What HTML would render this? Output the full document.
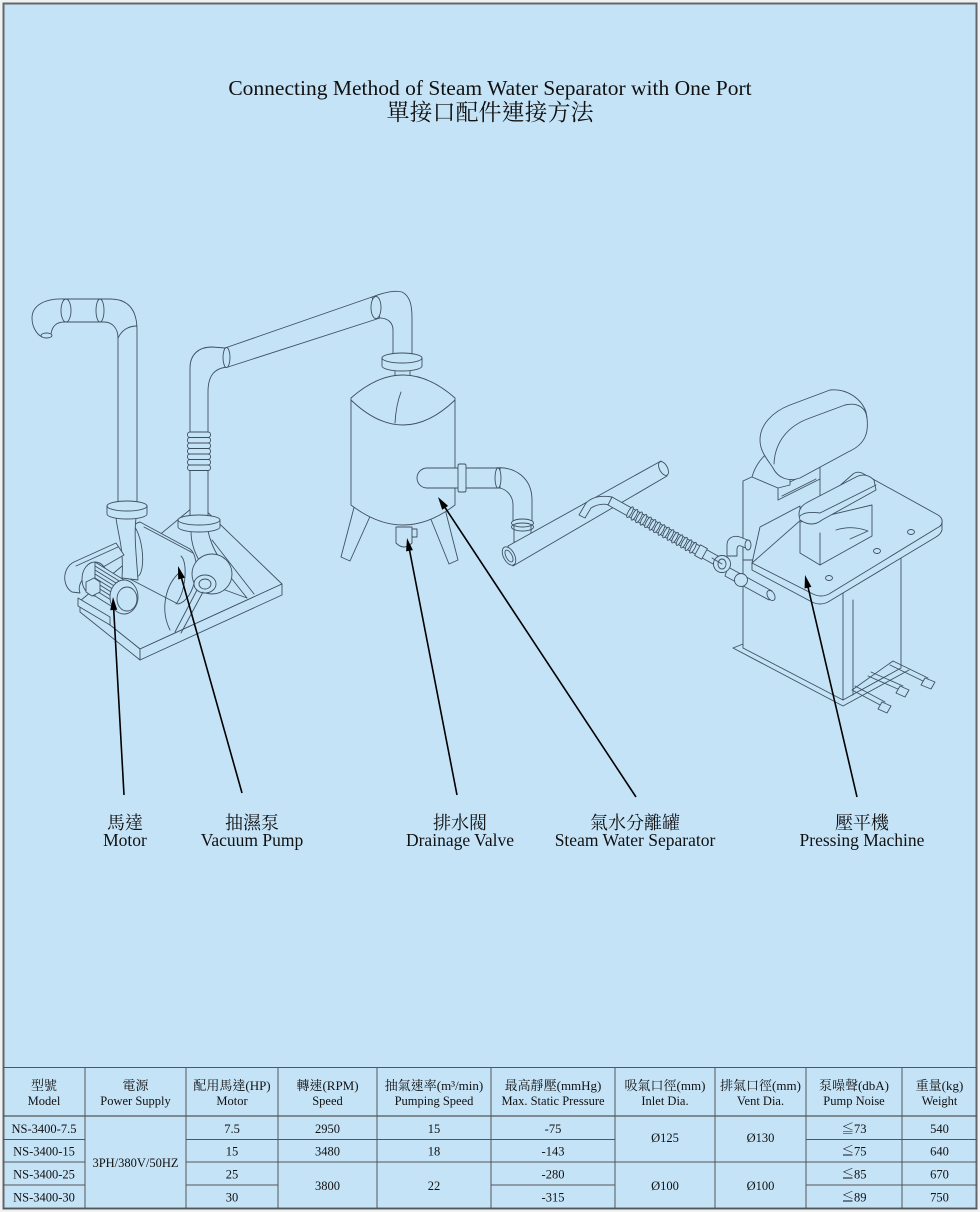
<!DOCTYPE html>
<html><head><meta charset="utf-8">
<style>
html,body{margin:0;padding:0;background:#fff;}
svg{display:block;}
.d{fill:none;stroke:#3e5060;stroke-width:0.9;stroke-linejoin:round;stroke-linecap:round}
.f{fill:#c5e3f7;stroke:#3e5060;stroke-width:0.9;stroke-linejoin:round}
.t{font-family:"Liberation Serif","Noto Serif CJK TC","Noto Serif CJK SC",serif;fill:#111;}
.tb{font-size:12.5px;text-anchor:middle;}
.tc{font-size:13px;text-anchor:middle;}
.g{stroke:#555;stroke-width:1;fill:none}
</style></head><body>
<svg width="980" height="1212" viewBox="0 0 980 1212" xmlns="http://www.w3.org/2000/svg">
<rect x="0" y="0" width="980" height="1212" fill="#eef2f5"/>
<rect x="3.5" y="3.5" width="973" height="1205" fill="#c5e3f7" stroke="#666" stroke-width="2"/>

<!-- Title -->
<text class="t" x="490" y="95" font-size="21.5" text-anchor="middle">Connecting Method of Steam Water Separator with One Port</text>
<text class="t" x="490" y="120" font-size="23" text-anchor="middle">單接口配件連接方法</text>

<!-- ================= LEFT: pump assembly ================= -->
<!-- base -->
<path class="f" d="M80,601 L198,503 L282,584 L140,649 Z"/>
<path class="f" d="M80,601 L80,612 L140,660 L140,649 Z"/>
<path class="f" d="M140,649 L140,660 L282,595 L282,584 Z"/>
<path class="d" d="M205,545 L247,598 M212,540 L254,594"/>

<!-- left pipe -->
<path class="f" d="M118,503 L118,338 C118,328 112,322 104,322 L64,322 L64,299 L110,299 C127,299 137,308 137,330 L137,503 Z"/>
<path class="d" d="M118,338 C122,330 128,326 137,326"/>
<ellipse class="f" cx="100" cy="310.5" rx="4" ry="11.5"/>
<path class="f" d="M64,299 C46,298 32,305 32,318 C32,326 36,334 42,337 L51,334 C52,327 56,322 64,322 Z"/>
<ellipse class="f" cx="66" cy="310.5" rx="5" ry="11.5"/>
<ellipse class="f" cx="46.5" cy="335.5" rx="5.5" ry="2.5"/>

<!-- right pipe + diagonal to separator -->
<path class="f" d="M225,348 L372,297 L380,318 L228,367 Z"/>
<path class="f" d="M190,518 L190,368 C190,355 198,347 212,347 L225,348 L228,367 C214,368 208,376 208,392 L208,518 Z"/>
<ellipse class="f" cx="226.5" cy="357.5" rx="3.5" ry="10"/>
<g class="f">
<rect x="187.5" y="432" width="23" height="5.5" rx="2.5"/>
<rect x="187.5" y="437.5" width="23" height="5.5" rx="2.5"/>
<rect x="187.5" y="443" width="23" height="5.5" rx="2.5"/>
<rect x="187.5" y="448.5" width="23" height="5.5" rx="2.5"/>
<rect x="187.5" y="454" width="23" height="5.5" rx="2.5"/>
<rect x="187.5" y="459.5" width="23" height="5.5" rx="2.5"/>
<rect x="187.5" y="465" width="23" height="5.5" rx="2.5"/>
</g>

<!-- coupling cylinder -->
<path class="f" d="M140,522 L190,549 C202,558 196,600 178,604 L128,578 C118,570 124,525 140,522 Z"/>
<ellipse class="f" cx="133" cy="550" rx="9" ry="27" transform="rotate(-8 133 550)"/>
<path class="d" d="M144,527 L193,553 M176,604 C186,592 188,562 181,556"/>

<!-- right flange + neck + volute -->
<path class="f" d="M191,531 C191,545 196,555 200,562 L218,556 C213,548 210,540 208,531 Z"/>
<path class="f" d="M178,520 A21,5 0 0,1 220,520 L220,527 A21,5 0 0,1 178,527 Z"/>
<path class="d" d="M178,520 A21,5 0 0,0 220,520"/>
<circle class="f" cx="212" cy="574" r="20"/>
<ellipse class="f" cx="205" cy="584" rx="11" ry="9"/>
<ellipse class="d" cx="205" cy="584" rx="6" ry="5"/>
<path class="d" d="M170,630 C160,610 165,585 180,572 M175,632 L197,590 M181,633 L203,592 M225,590 L247,598"/>

<!-- left flange + neck -->
<path class="f" d="M116,518 C118,535 124,548 122,578 L138,580 C136,552 134,535 136,518 Z"/>
<path class="f" d="M107,506 A20,5 0 0,1 147,506 L147,514 A20,5 0 0,1 107,514 Z"/>
<path class="d" d="M107,506 A20,5 0 0,0 147,506"/>

<!-- motor -->
<path class="f" d="M72,592 C62,586 62,568 74,562 L116,543 L124,555 L84,578 C80,582 78,588 80,593 Z"/>
<path class="d" d="M76,566 L118,547"/>
<path class="f" d="M78,598 L78,606 L110,625 L110,617 Z"/>
<ellipse class="f" cx="95" cy="579" rx="13" ry="17"/>
<path class="f" d="M95,562 L124,580 L124,614 L95,596 Z"/>
<path class="d" d="M95,566 L124,584 M95,570 L124,588 M95,574 L124,592 M95,578 L124,596 M95,582 L124,600 M95,586 L124,604 M95,590 L124,608"/>
<path class="f" d="M86,582 L94,578 L100,582 L100,592 L92,596 L86,592 Z"/>
<ellipse class="f" cx="124" cy="597" rx="14" ry="17"/>
<ellipse class="f" cx="127" cy="599" rx="10" ry="12"/>

<!-- ================= SEPARATOR ================= -->
<path class="f" d="M372,297 C385,292 395,290 402,292 C410,296 412,305 412,318 L412,356 L393,356 L393,330 C393,323 388,318 380,318 Z"/>
<ellipse class="f" cx="376" cy="307.5" rx="5" ry="11"/>
<path class="f" d="M395,366 L395,394 L410,394 L410,366 Z"/>
<path class="f" d="M382,358 A20,5 0 0,1 422,358 L422,366 A20,5 0 0,1 382,366 Z"/>
<path class="d" d="M382,358 A20,5 0 0,0 422,358"/>
<!-- legs -->
<path class="f" d="M356,500 L372,512 L350,561 L341,557 Z"/>
<path class="f" d="M428,512 L444,505 L458,560 L449,564 Z"/>
<!-- tank -->
<path class="f" d="M351,398 Q403,352 455,398 L455,505 Q403,545 351,505 Z"/>
<path class="d" d="M351,400 Q403,450 455,400 M401,392 Q396,405 395,423"/>
<!-- drain valve -->
<path class="f" d="M396,527 L396,543 Q404,551 412,543 L412,527 Z"/>
<rect class="f" x="412" y="529" width="5" height="8"/>
<!-- side outlet elbow -->
<path class="f" d="M514,522 L514,542 L531,542 L531,522 Z"/>
<path class="f" d="M495,468 C515,466 532,478 532,500 L532,522 L513,522 L513,505 C513,497 508,490 500,488 Z"/>
<ellipse class="f" cx="522.5" cy="523" rx="11" ry="4"/>
<ellipse class="d" cx="522.5" cy="527" rx="11" ry="4"/>
<path class="f" d="M500,468 L427,468 A10,10 0 0 0 427,488 L500,488 Z"/>
<ellipse class="f" cx="498" cy="478" rx="3" ry="10"/>
<rect class="f" x="458" y="464" width="8" height="28" rx="1.5"/>

<!-- ================= right pipe / hose ================= -->
<path class="f" d="M508,546 L661,461 L667,476 L513,566 Z"/>
<ellipse class="f" cx="509" cy="556" rx="5.5" ry="10" transform="rotate(-28 509 556)"/>
<ellipse class="d" cx="509" cy="556" rx="3" ry="6.5" transform="rotate(-28 509 556)"/>
<ellipse class="f" cx="663.5" cy="468.5" rx="4" ry="7.5" transform="rotate(-28 663.5 468.5)"/>
<path class="f" d="M579,515 L586,503 C592,497 600,495 612,497 L610,505 C602,503 596,505 591,508 L585,518 Z"/>
<path class="f" d="M612,497 L718,556 L713,564 L608,505 Z"/>
<g class="f">
<ellipse cx="630" cy="512.2" rx="1.8" ry="6" transform="rotate(29 630 512.2)"/>
<ellipse cx="634.5" cy="514.8" rx="1.8" ry="6" transform="rotate(29 634.5 514.8)"/>
<ellipse cx="639" cy="517.3" rx="1.8" ry="6" transform="rotate(29 639 517.3)"/>
<ellipse cx="643.5" cy="519.8" rx="1.8" ry="6" transform="rotate(29 643.5 519.8)"/>
<ellipse cx="648" cy="522.4" rx="1.8" ry="6" transform="rotate(29 648 522.4)"/>
<ellipse cx="652.5" cy="524.9" rx="1.8" ry="6" transform="rotate(29 652.5 524.9)"/>
<ellipse cx="657" cy="527.4" rx="1.8" ry="6" transform="rotate(29 657 527.4)"/>
<ellipse cx="661.5" cy="530" rx="1.8" ry="6" transform="rotate(29 661.5 530)"/>
<ellipse cx="666" cy="532.5" rx="1.8" ry="6" transform="rotate(29 666 532.5)"/>
<ellipse cx="670.5" cy="535" rx="1.8" ry="6" transform="rotate(29 670.5 535)"/>
<ellipse cx="675" cy="537.6" rx="1.8" ry="6" transform="rotate(29 675 537.6)"/>
<ellipse cx="679.5" cy="540.1" rx="1.8" ry="6" transform="rotate(29 679.5 540.1)"/>
<ellipse cx="684" cy="542.6" rx="1.8" ry="6" transform="rotate(29 684 542.6)"/>
<ellipse cx="688.5" cy="545.2" rx="1.8" ry="6" transform="rotate(29 688.5 545.2)"/>
<ellipse cx="693" cy="547.7" rx="1.8" ry="6" transform="rotate(29 693 547.7)"/>
</g>
<rect class="f" x="697" y="546" width="8" height="12" transform="rotate(29 701 552)"/>

<!-- ================= PRESSING MACHINE ================= -->
<!-- cabinet -->
<path class="d" d="M733,648 L843,706 L909,670 M733,648 L743,644"/>
<path class="f" d="M743,481 L743,648 L843,700 L901,668 L901,540 L843,570 Z"/>
<path class="d" d="M843,590 L843,700 M853,600 L853,695"/>
<!-- pedals -->
<path class="d" d="M852,690 L882,706 M855,686 L885,702 M868,676 L900,690 M871,672 L903,686 M890,665 L925,682 M893,661 L928,678 M852,690 L893,661"/>
<path class="f" d="M882,702 L891,706 L887,713 L878,709 Z M900,686 L909,690 L905,697 L896,693 Z M925,678 L935,682 L931,689 L921,685 Z"/>
<!-- column / back -->
<path class="f" d="M743,481 L756,475 L778,488 L820,467 L820,540 L778,560 L743,560 Z"/>
<path class="d" d="M778,488 L778,500 L820,479 M782,496 L816,479"/>
<path class="f" d="M752,477 C755,466 762,456 772,450 L790,455 L790,485 L778,488 Z"/>
<path class="f" d="M752,563 L760,527 L800,506 L800,545 Z"/>
<!-- valve assembly -->
<path class="f" d="M727,556 L727,545 C727,538 733,535 740,537 L750,541 L748,549 L741,546 C738,545 737,547 737,549 L737,556 Z"/>
<ellipse class="f" cx="748" cy="545" rx="3" ry="5"/>
<path class="f" d="M728,567 L772,591 L769,600 L725,576 Z"/>
<circle class="f" cx="722" cy="564" r="8.5"/>
<ellipse class="d" cx="722" cy="564" rx="4" ry="5"/>
<circle class="f" cx="741" cy="580" r="6.5"/>
<ellipse class="f" cx="771" cy="595.5" rx="3.5" ry="5.5" transform="rotate(-30 771 595.5)"/>
<path class="d" d="M712,558 L722,564"/>
<!-- table top -->
<path class="f" d="M752,563 L853,474 Q857,471 862,473 L938,515 Q943,518 942,523 L942,530 Q941,534 936,537 L828,602 Q820,606 812,602 L752,570 Z"/>
<path class="d" d="M942,522 Q942,526 937,528 L829,594 Q821,598 813,594 L752,563"/>
<ellipse class="f" cx="829" cy="578" rx="3.5" ry="2.5"/>
<ellipse class="f" cx="877" cy="551" rx="3.5" ry="2.5"/>
<ellipse class="f" cx="911" cy="532" rx="3.5" ry="2.5"/>
<!-- buck -->
<path class="f" d="M800,522 L800,553 L820,565 L872,536 L872,505 Z"/>
<path class="d" d="M820,533 L820,565"/>
<path class="d" d="M836,530 Q852,525 868,531 L850,539"/>
<path class="f" d="M800,520 Q796,508 808,502 L856,477 Q866,472 874,480 L876,490 L822,520 Q812,528 800,520 Z"/>
<path class="d" d="M800,516 Q805,511 820,513 L876,485"/>
<!-- head -->
<path class="f" d="M830,390 C848,388 862,400 866,412 C870,432 866,444 848,452 L800,478 C788,482 778,478 773,468 C768,460 760,452 760,440 C760,425 772,412 790,405 Z"/>
<path class="d" d="M774,464 C775,440 790,425 810,418 L845,405 C858,402 866,408 867,418"/>

<!-- ================= ARROWS ================= -->
<g stroke="#000" stroke-width="1.6" fill="none">
<line x1="124" y1="795" x2="113.7" y2="609"/>
<line x1="242" y1="793" x2="181.5" y2="578"/>
<line x1="457" y1="795" x2="409.5" y2="550"/>
<line x1="636" y1="797" x2="445" y2="507.5"/>
<line x1="857" y1="797" x2="808" y2="587"/>
</g>
<g fill="#000">
<polygon points="113,597 117.2,609.8 110.2,610.2"/>
<polygon points="178,566 184.9,577.6 178.2,579.5"/>
<polygon points="407,538 412.9,550.1 406.1,551.4"/>
<polygon points="438,497 448.1,505.9 442.2,509.8"/>
<polygon points="805,575 811.4,586.9 804.6,588.5"/>
</g>

<!-- ================= LABELS ================= -->
<g class="t" text-anchor="middle">
<text x="125" y="829" font-size="18">馬達</text>
<text x="125" y="846" font-size="17.5">Motor</text>
<text x="252" y="829" font-size="18">抽濕泵</text>
<text x="252" y="846" font-size="17.5">Vacuum Pump</text>
<text x="460" y="829" font-size="18">排水閥</text>
<text x="460" y="846" font-size="17.5">Drainage Valve</text>
<text x="635" y="829" font-size="18">氣水分離罐</text>
<text x="635" y="846" font-size="17.5">Steam Water Separator</text>
<text x="862" y="829" font-size="18">壓平機</text>
<text x="862" y="846" font-size="17.5">Pressing Machine</text>
</g>

<!-- ================= TABLE ================= -->
<g class="g">
<line x1="3" y1="1067.5" x2="977" y2="1067.5"/>
<line x1="3" y1="1116" x2="977" y2="1116" stroke-width="1.3"/>
<line x1="3" y1="1208.5" x2="977" y2="1208.5"/>
<line x1="85" y1="1067" x2="85" y2="1209"/>
<line x1="186" y1="1067" x2="186" y2="1209"/>
<line x1="278" y1="1067" x2="278" y2="1209"/>
<line x1="377" y1="1067" x2="377" y2="1209"/>
<line x1="491" y1="1067" x2="491" y2="1209"/>
<line x1="615" y1="1067" x2="615" y2="1209"/>
<line x1="715" y1="1067" x2="715" y2="1209"/>
<line x1="806" y1="1067" x2="806" y2="1209"/>
<line x1="902" y1="1067" x2="902" y2="1209"/>
<!-- row 1/2 -->
<line x1="3" y1="1139.5" x2="85" y2="1139.5"/>
<line x1="186" y1="1139.5" x2="615" y2="1139.5"/>
<line x1="806" y1="1139.5" x2="977" y2="1139.5"/>
<!-- row 2/3 -->
<line x1="3" y1="1162" x2="85" y2="1162"/>
<line x1="186" y1="1162" x2="977" y2="1162"/>
<!-- row 3/4 -->
<line x1="3" y1="1185" x2="85" y2="1185"/>
<line x1="186" y1="1185" x2="278" y2="1185"/>
<line x1="491" y1="1185" x2="615" y2="1185"/>
<line x1="806" y1="1185" x2="977" y2="1185"/>
</g>
<g class="t">
<text class="tc" x="44" y="1090">型號</text>
<text class="tb" x="44" y="1105">Model</text>
<text class="tc" x="135.5" y="1090">電源</text>
<text class="tb" x="135.5" y="1105">Power Supply</text>
<text class="tc" x="232" y="1090">配用馬達(HP)</text>
<text class="tb" x="232" y="1105">Motor</text>
<text class="tc" x="327.5" y="1090">轉速(RPM)</text>
<text class="tb" x="327.5" y="1105">Speed</text>
<text class="tc" x="434" y="1090">抽氣速率(m³/min)</text>
<text class="tb" x="434" y="1105">Pumping Speed</text>
<text class="tc" x="553" y="1090">最高靜壓(mmHg)</text>
<text class="tb" x="553" y="1105">Max. Static Pressure</text>
<text class="tc" x="665" y="1090">吸氣口徑(mm)</text>
<text class="tb" x="665" y="1105">Inlet Dia.</text>
<text class="tc" x="760.5" y="1090">排氣口徑(mm)</text>
<text class="tb" x="760.5" y="1105">Vent Dia.</text>
<text class="tc" x="854" y="1090">泵噪聲(dbA)</text>
<text class="tb" x="854" y="1105">Pump Noise</text>
<text class="tc" x="939.5" y="1090">重量(kg)</text>
<text class="tb" x="939.5" y="1105">Weight</text>

<text class="tb" x="44" y="1133">NS-3400-7.5</text>
<text class="tb" x="44" y="1155.5">NS-3400-15</text>
<text class="tb" x="44" y="1178.5">NS-3400-25</text>
<text class="tb" x="44" y="1201.5">NS-3400-30</text>

<text class="tb" x="135.5" y="1167">3PH/380V/50HZ</text>

<text class="tb" x="232" y="1133">7.5</text>
<text class="tb" x="232" y="1155.5">15</text>
<text class="tb" x="232" y="1178.5">25</text>
<text class="tb" x="232" y="1201.5">30</text>

<text class="tb" x="327.5" y="1133">2950</text>
<text class="tb" x="327.5" y="1155.5">3480</text>
<text class="tb" x="327.5" y="1190">3800</text>

<text class="tb" x="434" y="1133">15</text>
<text class="tb" x="434" y="1155.5">18</text>
<text class="tb" x="434" y="1190">22</text>

<text class="tb" x="553" y="1133">-75</text>
<text class="tb" x="553" y="1155.5">-143</text>
<text class="tb" x="553" y="1178.5">-280</text>
<text class="tb" x="553" y="1201.5">-315</text>

<text class="tb" x="665" y="1142">Ø125</text>
<text class="tb" x="665" y="1190">Ø100</text>
<text class="tb" x="760.5" y="1142">Ø130</text>
<text class="tb" x="760.5" y="1190">Ø100</text>

<text class="tb" x="854" y="1133">≦73</text>
<text class="tb" x="854" y="1155.5">≦75</text>
<text class="tb" x="854" y="1178.5">≦85</text>
<text class="tb" x="854" y="1201.5">≦89</text>

<text class="tb" x="939.5" y="1133">540</text>
<text class="tb" x="939.5" y="1155.5">640</text>
<text class="tb" x="939.5" y="1178.5">670</text>
<text class="tb" x="939.5" y="1201.5">750</text>
</g>
</svg>
</body></html>
